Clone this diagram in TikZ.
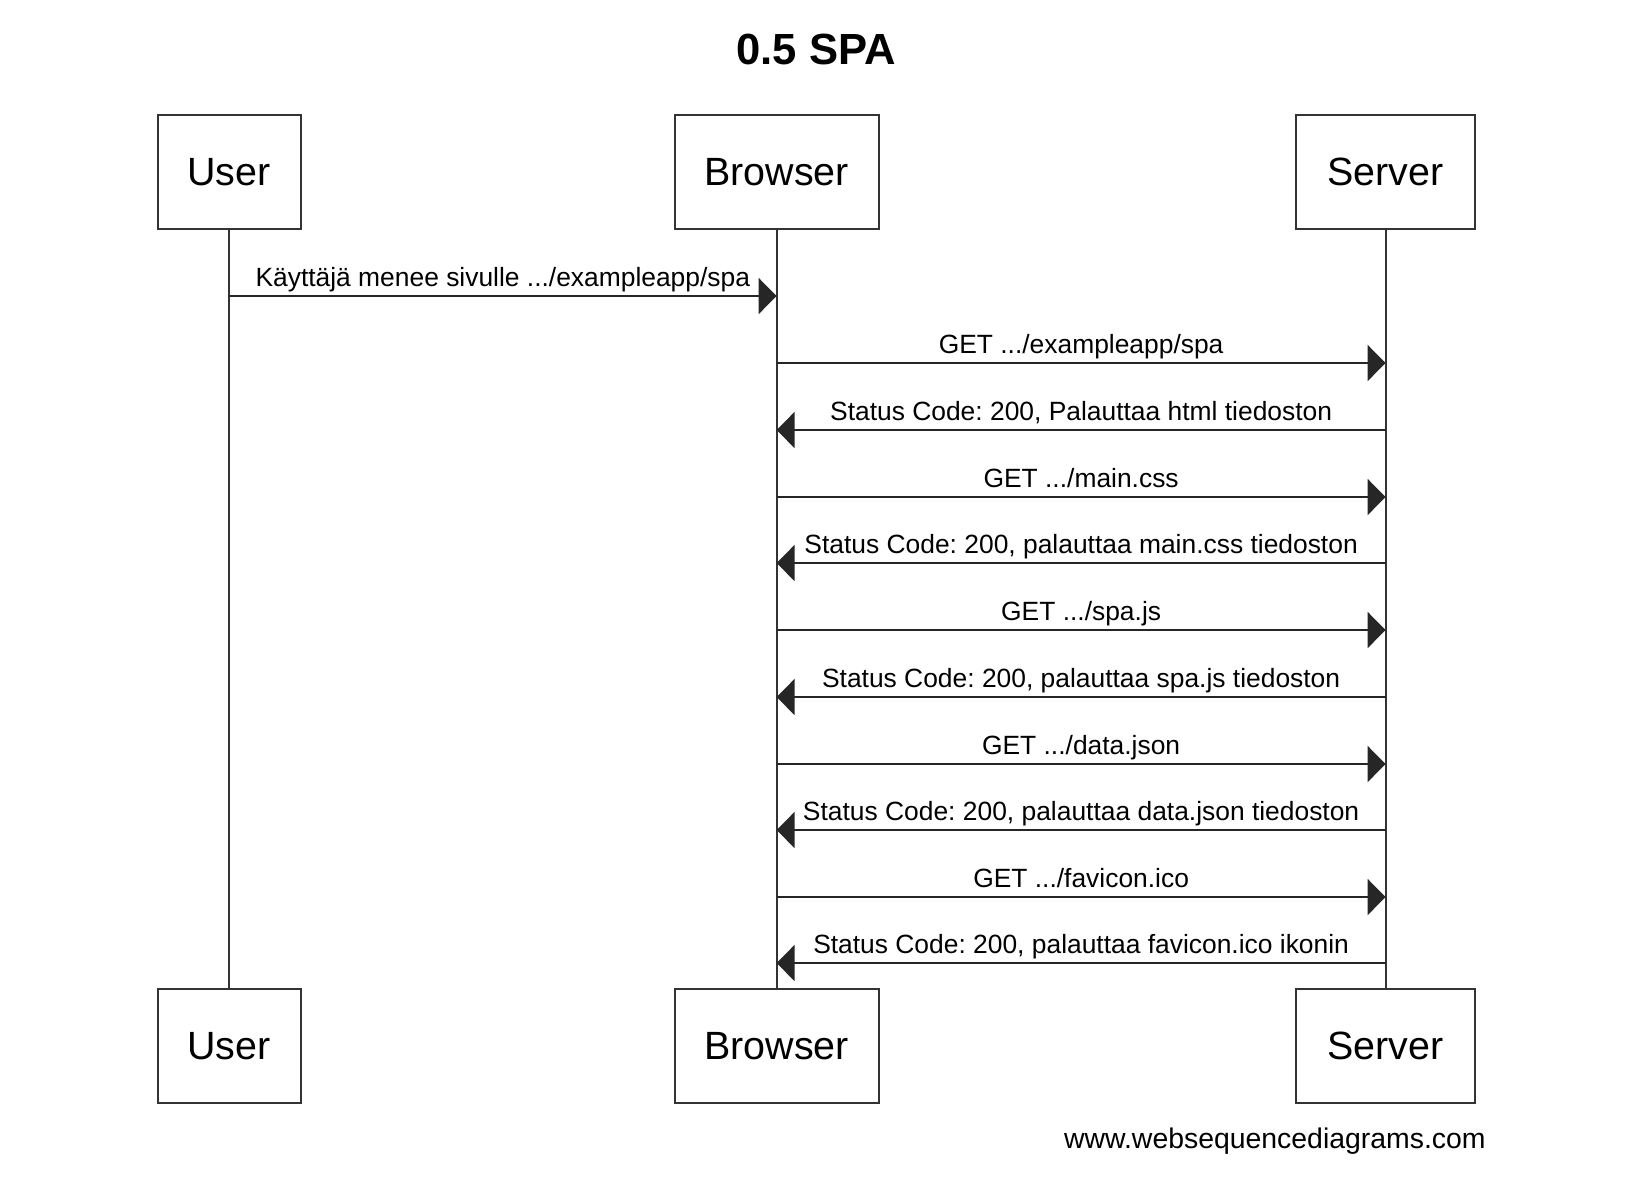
\documentclass[tikz,border=0pt]{standalone}
\usepackage{fontspec}
\setmainfont{Liberation Sans}
\frenchspacing
\usetikzlibrary{arrows.meta}
\usetikzlibrary{positioning}
\tikzstyle{actor} = [draw=black!80, line width=1pt, rectangle, inner sep=0pt,
minimum height=57.25pt, font=\fontsize{19.7}{23}\selectfont]
\tikzstyle{lifeline} = [draw=black!80, line width=1pt]
\tikzstyle{line} = [draw=black!85, line width=0.85pt, -{Triangle[length=9pt,width=18pt]}]
\tikzstyle{msg} = [midway, anchor=base, yshift=5pt, inner sep=0pt,
font=\fontsize{13.2}{16}\selectfont]

\begin{document}
\begin{tikzpicture}[x=0.5pt, y=-0.5pt]
    \useasboundingbox (0,0) rectangle (1632,1180);
    \node[font=\bfseries\fontsize{21.8}{26}\selectfont] (title) at (816,49) {0.5 SPA};
    %% Participants
    \node[actor, minimum width=71.5pt] (userTop) at (229,172) {\raisebox{-1pt}{User}};
    \node[actor, minimum width=102pt] (browserTop) at (776.6,172) {\raisebox{-1pt}{Browser}};
    \node[actor, minimum width=89.5pt] (serverTop) at (1385.6,172) {\raisebox{-1pt}{Server}};
    \node[actor, minimum width=71.5pt] (userBot) at (229,1046) {\raisebox{-1pt}{User}};
    \node[actor, minimum width=102pt] (browserBot) at (776.6,1046) {\raisebox{-1pt}{Browser}};
    \node[actor, minimum width=89.5pt] (serverBot) at (1385.6,1046) {\raisebox{-1pt}{Server}};
    %% Lifelines
    \path [lifeline] (userTop.south) -- (userBot.north);
    \path [lifeline] (browserTop.south) -- (browserBot.north);
    \path [lifeline] (serverTop.south) -- (serverBot.north);
    %% Message rows
    \coordinate (m1) at (0,296);
    \coordinate (m2) at (0,363);
    \coordinate (m3) at (0,430);
    \coordinate (m4) at (0,497);
    \coordinate (m5) at (0,563);
    \coordinate (m6) at (0,630);
    \coordinate (m7) at (0,697);
    \coordinate (m8) at (0,764);
    \coordinate (m9) at (0,830);
    \coordinate (m10) at (0,897);
    \coordinate (m11) at (0,963);
    %% Messages
    \path [line] (userTop |- m1) to node [msg] {Käyttäjä menee sivulle .../exampleapp/spa} (browserTop |- m1);
    \path [line] (browserTop |- m2) to node [msg] {GET .../exampleapp/spa} (serverTop |- m2);
    \path [line] (serverTop |- m3) to node [msg] {Status Code: 200, Palauttaa html tiedoston} (browserTop |- m3);
    \path [line] (browserTop |- m4) to node [msg] {GET .../main.css} (serverTop |- m4);
    \path [line] (serverTop |- m5) to node [msg] {Status Code: 200, palauttaa main.css tiedoston} (browserTop |- m5);
    \path [line] (browserTop |- m6) to node [msg] {GET .../spa.js} (serverTop |- m6);
    \path [line] (serverTop |- m7) to node [msg] {Status Code: 200, palauttaa spa.js tiedoston} (browserTop |- m7);
    \path [line] (browserTop |- m8) to node [msg] {GET .../data.json} (serverTop |- m8);
    \path [line] (serverTop |- m9) to node [msg] {Status Code: 200, palauttaa data.json tiedoston} (browserTop |- m9);
    \path [line] (browserTop |- m10) to node [msg] {GET .../favicon.ico} (serverTop |- m10);
    \path [line] (serverTop |- m11) to node [msg] {Status Code: 200, palauttaa favicon.ico ikonin} (browserTop |- m11);
    %%
    \node[anchor=base east, inner sep=0pt, font=\fontsize{14.2}{17}\selectfont] (credit) at (1486,1148) {www.websequencediagrams.com};
\end{tikzpicture}
\end{document}
